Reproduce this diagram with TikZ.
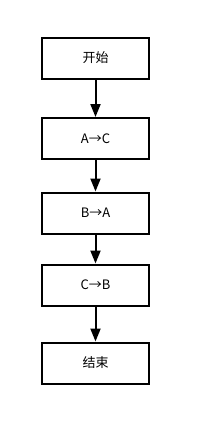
\documentclass[tikz,border=0pt]{standalone}
\usepackage{fontspec}
\setmainfont{Noto Sans CJK SC}
\usetikzlibrary{arrows.meta}
\begin{document}
\begin{tikzpicture}[x=1pt,y=1pt,
  stepbox/.style={draw=black,line width=2pt,minimum width=107pt,minimum height=41pt,inner sep=0pt,font=\fontsize{13}{15}\selectfont},
  conn/.style={line width=2pt,-{Triangle[length=13pt,width=10pt]}}]
\useasboundingbox (0,0) rectangle (211,-445);
\node[stepbox] (s) at (95.5,-58) {开始};
\node[stepbox] (a) at (95.5,-138.5) {A→C};
\node[stepbox] (b) at (95.5,-213) {B→A};
\node[stepbox] (c) at (95.5,-285) {C→B};
\node[stepbox] (e) at (95.5,-363) {结束};
\draw[conn] (s) -- (a);
\draw[conn] (a) -- (b);
\draw[conn] (b) -- (c);
\draw[conn] (c) -- (e);
\end{tikzpicture}
\end{document}
